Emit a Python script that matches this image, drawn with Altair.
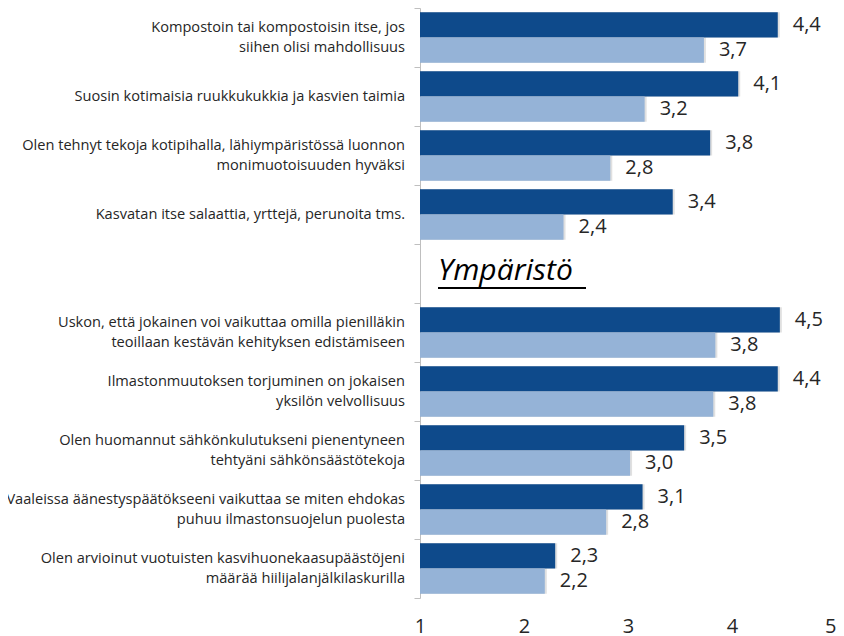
import altair as alt
import pandas as pd

categories = [
    "Kompostoin tai kompostoisin itse, jos\nsiihen olisi mahdollisuus",
    "Suosin kotimaisia ruukkukukkia ja kasvien taimia",
    "Olen tehnyt tekoja kotipihalla, lähiympäristössä luonnon\nmonimuotoisuuden hyväksi",
    "Kasvatan itse salaattia, yrttejä, perunoita tms.",
    "",
    "Uskon, että jokainen voi vaikuttaa omilla pienilläkin\nteoillaan kestävän kehityksen edistämiseen",
    "Ilmastonmuutoksen torjuminen on jokaisen\nyksilön velvollisuus",
    "Olen huomannut sähkönkulutukseni pienentyneen\ntehtyäni sähkönsäästötekoja",
    "Vaaleissa äänestyspäätökseeni vaikuttaa se miten ehdokas\npuhuu ilmastonsuojelun puolesta",
    "Olen arvioinut vuotuisten kasvihuonekaasupäästöjeni\nmäärää hiilijalanjälkilaskurilla",
]
series_names = ["Sarja 1", "Sarja 2"]
dark_values = [4.44, 4.06, 3.79, 3.43, None, 4.46, 4.44, 3.54, 3.14, 2.30]
light_values = [3.73, 3.16, 2.83, 2.38, None, 3.84, 3.82, 3.02, 2.79, 2.20]
heading = "Ympäristö"
x_ticks = [1, 2, 3, 4, 5]
colors = ["#0E4A8B", "#95B3D7"]

rows = []
for c, d, l in zip(categories, dark_values, light_values):
    if d is not None:
        rows.append({"cat": c, "series": series_names[0], "value": d})
    if l is not None:
        rows.append({"cat": c, "series": series_names[1], "value": l})
df = pd.DataFrame(rows)
head_df = pd.DataFrame([{"cat": "", "t": heading}])
cat_df = pd.DataFrame({"cat": categories, "two": ["\n" in c for c in categories]})

FONT = "Open Sans"
TXT = "#262626"

y_enc = alt.Y(
    "cat:N",
    sort=categories,
    scale=alt.Scale(domain=categories, paddingInner=0, paddingOuter=0),
    axis=alt.Axis(
        title=None,
        labels=False,
        tickBand="extent",
        tickSize=6,
        tickColor="#BFBFBF",
        domainColor="#BFBFBF",
    ),
)
x_scale = alt.Scale(domain=[1, 5], zero=False, nice=False)
x_axis = alt.Axis(
    title=None,
    values=x_ticks,
    format="d",
    grid=False,
    domain=False,
    ticks=False,
    labelFont=FONT,
    labelFontSize=20,
    labelColor=TXT,
    labelPadding=18,
    labelFlush=False,
    labelAlign={"condition": {"test": "datum.value == 5", "value": "right"}, "value": "center"},
)
yoff = alt.YOffset(
    "series:N",
    sort=series_names,
    scale=alt.Scale(domain=series_names, paddingInner=0, paddingOuter=0.17),
)

shadow = alt.Chart(df).mark_bar(color="#000000", opacity=0.12, xOffset=2, yOffset=2).encode(
    y=y_enc,
    yOffset=yoff,
    x=alt.X("value:Q", scale=x_scale, axis=x_axis),
    x2=alt.datum(1),
)

bars = alt.Chart(df).mark_bar().encode(
    y=y_enc,
    yOffset=yoff,
    x=alt.X("value:Q", scale=x_scale, axis=x_axis),
    x2=alt.datum(1),
    color=alt.Color("series:N", scale=alt.Scale(domain=series_names, range=colors), legend=None),
)

labels = alt.Chart(df).mark_text(
    align="left", baseline="middle", dx=15, font=FONT, fontSize=20, color=TXT
).transform_calculate(
    lab="replace(format(datum.value, '.1f'), '.', ',')"
).encode(
    y=y_enc,
    yOffset=yoff,
    x=alt.X("value:Q", scale=x_scale, axis=x_axis),
    text="lab:N",
)

cat_one = alt.Chart(cat_df).transform_filter("!datum.two").mark_text(
    align="right", baseline="middle", font=FONT, fontSize=14.6, color=TXT
).encode(y=y_enc, x=alt.value(-15), text="cat:N")

cat_two = alt.Chart(cat_df).transform_filter("datum.two").mark_text(
    align="right", baseline="middle", font=FONT, fontSize=14.6, color=TXT,
    lineBreak="\n", lineHeight=20.5, dy=-10
).encode(y=y_enc, x=alt.value(-15), text="cat:N")

head = alt.Chart(head_df).mark_text(
    align="left", baseline="alphabetic", dx=18, dy=6.5, font=FONT, fontSize=30,
    fontStyle="italic", color="#000000"
).encode(
    y=y_enc,
    x=alt.datum(1, scale=x_scale),
    text="t:N",
)

underline = alt.Chart(head_df).mark_rule(color="#000000", strokeWidth=2).encode(
    x=alt.value(18), x2=alt.value(166), y=alt.value(280)
)

chart = alt.layer(shadow, bars, labels, cat_one, cat_two, head, underline).properties(
    width=416,
    height=590,
    autosize=alt.AutoSizeParams(type="none"),
    padding={"left": 412, "top": 0, "right": 0, "bottom": 38},
).configure_view(stroke=None)

chart.save("out.html", embed_options={"renderer": "svg", "actions": False})
